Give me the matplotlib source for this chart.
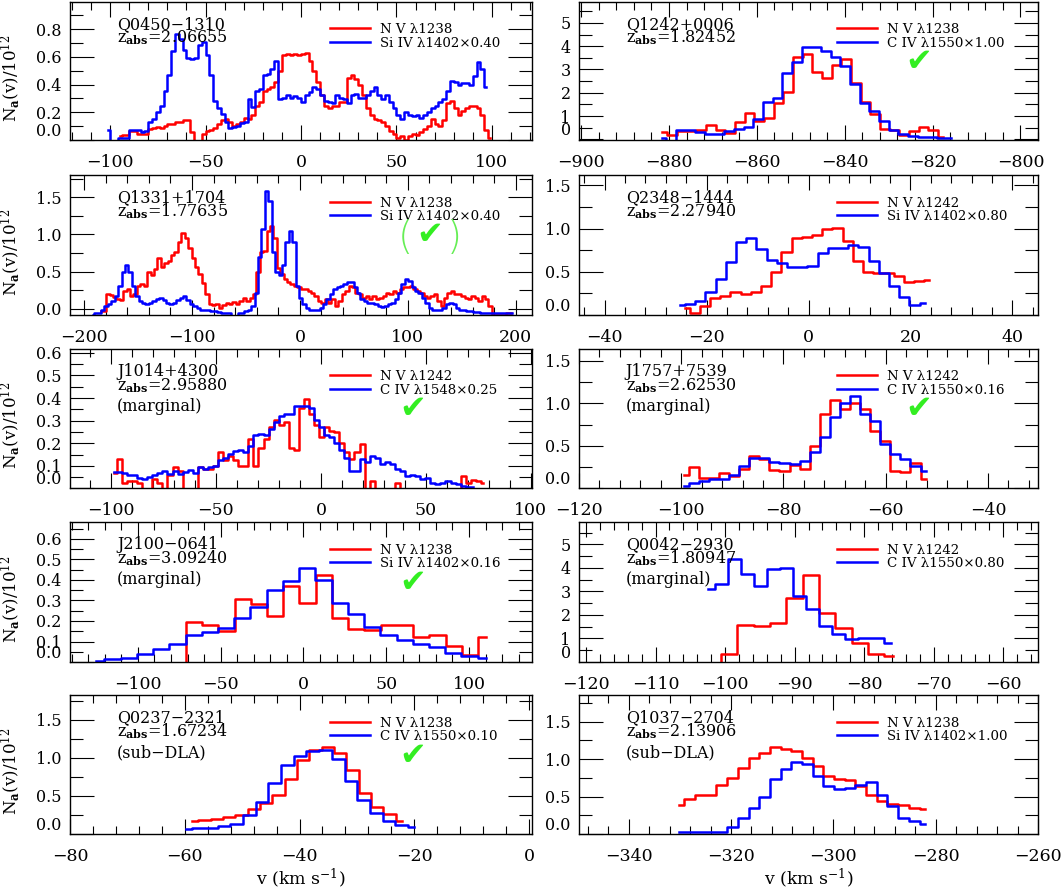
# Apparent column density profiles, N V vs Si IV / C IV, ten absorbers

import numpy as np
import matplotlib.pyplot as plt
from matplotlib.ticker import MultipleLocator, FormatStrFormatter

plt.rcParams['font.family'] = ['DejaVu Serif']
plt.rcParams['mathtext.fontset'] = 'dejavuserif'

RED = '#ff0000'
BLUE = '#0000ff'
GREEN = '#33ee22'

# velocity grids: (first bin centre, bin width) in km/s, values in 1e12 units

# Q0450-1310
q0450_nv_grid = (-95.0, 2.0)
q0450_nv = [0.027, 0.037, 0.037, 0.065, 0.065, 0.042, 0.042, 0.046, 0.08, 0.085,
            0.094, 0.085, 0.104, 0.113, 0.113, 0.128, 0.132, 0.142, 0.147, 0.056,
            -0.05, -0.05, 0.042, 0.065, 0.07, 0.085, 0.113, 0.142, 0.152, 0.132,
            0.104, 0.113, 0.132, 0.161, 0.152, 0.18, 0.247, 0.276, 0.352, 0.371,
            0.381, 0.419, 0.496, 0.61, 0.62, 0.61, 0.62, 0.61, 0.62, 0.63,
            0.572, 0.496, 0.419, 0.324, 0.247, 0.228, 0.247, 0.247, 0.276, 0.276,
            0.448, 0.467, 0.438, 0.4, 0.324, 0.228, 0.18, 0.152, 0.142, 0.132,
            0.104, 0.065, 0.042, 0.018, 0.027, -0.002, 0.03, 0.042, 0.037, 0.056,
            0.08, 0.104, 0.152, 0.113, 0.104, 0.142, 0.266, 0.285, 0.228, 0.18,
            0.209, 0.228, 0.247, 0.247, 0.228, 0.18, 0.075, 0.018]
q0450_si_grid = (-101.0, 2.0)
q0450_si = [0.075, -0.05, -0.05, 0.015, 0.015, 0.015, 0.075, 0.075, 0.075, 0.056,
            0.065, 0.132, 0.152, 0.2, 0.247, 0.352, 0.467, 0.639, 0.763, 0.725,
            0.649, 0.591, 0.582, 0.591, 0.687, 0.706, 0.61, 0.467, 0.285, 0.228,
            0.19, 0.132, 0.085, 0.094, 0.104, 0.123, 0.132, 0.295, 0.238, 0.352,
            0.371, 0.467, 0.477, 0.515, 0.572, 0.295, 0.304, 0.324, 0.304, 0.314,
            0.304, 0.276, 0.324, 0.343, 0.381, 0.371, 0.324, 0.285, 0.276, 0.266,
            0.324, 0.304, 0.295, 0.266, 0.324, 0.333, 0.304, 0.304, 0.324, 0.352,
            0.381, 0.324, 0.295, 0.324, 0.276, 0.228, 0.18, 0.152, 0.2, 0.18,
            0.171, 0.18, 0.161, 0.18, 0.2, 0.228, 0.247, 0.276, 0.295, 0.352,
            0.429, 0.419, 0.4, 0.41, 0.41, 0.4, 0.458, 0.563, 0.515, 0.381]

# Q1242+0006
q1242_nv_grid = (-881.5, 2.2)
q1242_nv = [0.31, 0.17, 0.35, 0.35, 0.42, 0.6, 0.42, 0.25, 0.76, 1.14,
            0.78, 0.93, 1.58, 2.04, 3.55, 3.66, 2.87, 2.65, 3.19, 3.47,
            2.4, 1.62, 1.07, 0.45, 0.38, 0.17, 0.35, 0.54, 0.38, 0.11]
q1242_c4_grid = (-881.7, 2.2)
q1242_c4 = [0.06, -0.2, 0.42, 0.38, 0.3, 0.24, 0.21, 0.35, 0.45, 0.54,
            0.86, 1.62, 1.79, 2.83, 3.33, 3.98, 3.98, 3.81, 3.52, 3.16,
            2.37, 1.58, 1.2, 0.78, 0.38, 0.24, 0.14, 0.09, 0.09, 0.06, 0.06]

# Q1331+1704
q1331_nv_grid = (-184.2, 3.162)
q1331_nv = [-0.03, -0.03, 0.2, 0.19, 0.16, 0.13, 0.12, 0.24, 0.27, 0.17,
            0.2, 0.31, 0.33, 0.31, 0.49, 0.45, 0.54, 0.68, 0.56, 0.61,
            0.65, 0.72, 0.77, 0.9, 1.02, 0.95, 0.82, 0.68, 0.56, 0.47,
            0.35, 0.2, 0.06, 0.05, 0.06, 0.01, 0.05, 0.08, 0.06, 0.09,
            0.07, 0.1, 0.15, 0.1, 0.15, 0.2, 0.49, 0.77, 0.78, 1.04,
            1.11, 0.95, 0.55, 0.47, 0.4, 0.36, 0.33, 0.31, 0.29, 0.27,
            0.27, 0.24, 0.22, 0.17, 0.1, 0.08, 0.13, 0.08, 0.13, 0.04,
            0.1, 0.2, 0.24, 0.31, 0.29, 0.22, 0.2, 0.15, 0.17, 0.13,
            0.17, 0.13, 0.15, 0.17, 0.22, 0.2, 0.24, 0.22, 0.27, 0.29,
            0.29, 0.31, 0.27, 0.24, 0.22, 0.17, 0.15, 0.17, 0.2, 0.1,
            0.04, 0.15, 0.22, 0.24, 0.2, 0.2, 0.17, 0.15, 0.13, 0.17,
            0.15, 0.1, 0.17, 0.13, 0.04, -0.08, -0.08, -0.08, -0.08, -0.05,
            -0.06]
q1331_si_grid = (-192.1, 3.162)
q1331_si = [-0.08, -0.06, -0.05, -0.01, 0.04, 0.06, 0.1, 0.17, 0.31, 0.49,
            0.59, 0.49, 0.31, 0.17, 0.1, 0.08, 0.06, 0.08, 0.1, 0.13,
            0.15, 0.12, 0.08, 0.06, 0.08, 0.12, 0.15, 0.17, 0.12, 0.06,
            0.04, 0.01, -0.01, -0.01, -0.02, -0.03, -0.03, -0.04, -0.05, -0.05,
            -0.06, -0.1, -0.1, -0.06, -0.05, -0.03, -0.01, 0.04, 0.22, 0.7,
            1.07, 1.59, 1.45, 0.77, 0.49, 0.45, 0.59, 0.9, 1.04, 0.9,
            0.31, 0.15, 0.06, 0.01, -0.01, -0.01, -0.01, 0.01, 0.06, 0.13,
            0.2, 0.27, 0.29, 0.31, 0.33, 0.36, 0.36, 0.29, 0.22, 0.13,
            0.1, 0.08, 0.08, 0.06, 0.04, 0.02, 0.04, 0.06, 0.08, 0.13,
            0.22, 0.33, 0.4, 0.38, 0.29, 0.24, 0.22, 0.15, 0.08, 0.01,
            -0.01, -0.01, -0.01, 0.01, 0.06, 0.08, 0.06, 0.01, -0.01, -0.01,
            -0.03, -0.03, -0.04, -0.04, -0.05, -0.05, -0.05, -0.06, -0.06, -0.06,
            -0.05, -0.05, -0.05, -0.06]

# Q2348-1444
q2348_nv_grid = (-24.3, 2.0)
q2348_nv = [0.08, 0.02, 0.1, 0.2, 0.22, 0.27, 0.24, 0.27, 0.34, 0.5,
            0.73, 0.89, 0.9, 0.92, 1.0, 1.01, 0.86, 0.62, 0.5, 0.49,
            0.48, 0.45, 0.38, 0.39, 0.4]
q2348_si_grid = (-25.2, 2.0)
q2348_si = [0.12, 0.13, 0.16, 0.27, 0.42, 0.61, 0.84, 0.89, 0.76, 0.64,
            0.6, 0.55, 0.56, 0.57, 0.72, 0.78, 0.77, 0.81, 0.79, 0.62,
            0.48, 0.34, 0.21, 0.12, 0.14]

# J1014+4300
j1014_nv_grid = (-98.35, 2.407)
j1014_nv = [0.07, 0.13, 0.024, 0.033, 0.033, 0.024, -0.05, -0.05, 0.042, 0.024,
            -0.05, 0.06, 0.093, 0.079, -0.05, -0.05, -0.05, 0.093, 0.086, 0.088,
            0.098, 0.163, 0.126, 0.144, 0.126, 0.098, 0.098, 0.218, 0.098, 0.181,
            0.218, 0.274, 0.301, 0.283, 0.292, 0.181, 0.172, 0.357, 0.394, 0.329,
            0.283, 0.227, 0.274, 0.255, 0.25, 0.2, 0.163, 0.13, 0.163, 0.195,
            -0.05, 0.033, -0.05, -0.05, -0.05, -0.05, 0.024, -0.05, -0.05, -0.05,
            -0.05, -0.05, -0.05, -0.05, -0.05, -0.05, -0.05, -0.05, -0.05, 0.056,
            0.024, 0.038, 0.033, 0.024]
j1014_c4_grid = (-98.35, 2.407)
j1014_c4 = [0.074, 0.074, 0.07, 0.061, 0.059, 0.048, 0.04, 0.052, 0.061, 0.07,
            0.079, 0.066, 0.079, 0.066, 0.075, 0.081, 0.07, 0.093, 0.086, 0.093,
            0.098, 0.126, 0.135, 0.153, 0.167, 0.172, 0.163, 0.19, 0.236, 0.241,
            0.236, 0.264, 0.292, 0.32, 0.329, 0.329, 0.366, 0.366, 0.366, 0.357,
            0.301, 0.274, 0.236, 0.227, 0.2, 0.172, 0.135, 0.079, 0.079, 0.13,
            0.116, 0.144, 0.135, 0.107, 0.116, 0.107, 0.088, 0.079, 0.055, 0.061,
            0.055, 0.04, 0.045, 0.024, 0.018, 0.024, 0.033, 0.024, 0.018, 0.011,
            0.006, 0.006]

# J1757+7539
j1757_nv_grid = (-99.5, 1.971)
j1757_nv = [0.16, 0.25, 0.12, 0.12, 0.18, 0.15, 0.23, 0.38, 0.35, 0.22,
            0.21, 0.28, 0.23, 0.5, 0.87, 1.04, 0.94, 1.0, 0.94, 0.67,
            0.56, 0.2, 0.19, 0.3, 0.11]
j1757_c4_grid = (-99.5, 1.971)
j1757_c4 = [0.03, 0.07, 0.09, 0.11, 0.11, 0.16, 0.27, 0.36, 0.36, 0.31,
            0.3, 0.29, 0.32, 0.43, 0.6, 0.84, 1.0, 1.09, 0.87, 0.79,
            0.52, 0.41, 0.35, 0.26, 0.2]

# J2100-0641
j2100_nv_grid = (-75.9, 9.8)
j2100_nv = [-0.05, 0.195, 0.18, 0.15, 0.306, 0.285, 0.225, 0.373, 0.29, 0.426,
            0.216, 0.16, 0.157, 0.18, 0.18, 0.12, 0.13, 0.08, 0.033, 0.12]
j2100_si_grid = (-125.1, 9.8)
j2100_si = [0.005, 0.013, 0.02, 0.04, 0.063, 0.088, 0.134, 0.145, 0.165, 0.216,
            0.27, 0.349, 0.397, 0.46, 0.402, 0.289, 0.236, 0.17, 0.134, 0.107,
            0.09, 0.071, 0.046, 0.03, 0.02]

# Q0042-2930
q0042_nv_grid = (-101.76, 2.351)
q0042_nv = [-0.3, 0.32, 1.59, 1.53, 1.65, 2.73, 3.71, 2.09, 1.43, 0.82, 0.32, 0.27]
q0042_c4_grid = (-102.44, 1.878)
q0042_c4 = [3.09, 3.3, 4.36, 3.75, 3.25, 3.95, 4.0, 2.81, 2.25, 1.54,
            1.21, 0.97, 1.04, 1.01, 0.79]

# Q0237-2321
q0237_nv_grid = (-58.69, 2.148)
q0237_nv = [0.17, 0.19, 0.2, 0.23, 0.255, 0.335, 0.41, 0.51, 0.72, 0.97,
            1.1, 1.14, 1.07, 0.84, 0.54, 0.35, 0.26, 0.17]
q0237_c4_grid = (-59.82, 2.214)
q0237_c4 = [0.07, 0.08, 0.08, 0.106, 0.137, 0.247, 0.42, 0.67, 0.91, 1.02,
            1.09, 1.105, 0.99, 0.69, 0.445, 0.27, 0.167, 0.115, 0.09]

# Q1037-2704
q1037_nv_grid = (-330.15, 2.089)
q1037_nv = [0.39, 0.47, 0.52, 0.525, 0.65, 0.75, 0.88, 1.01, 1.085, 1.157,
            1.13, 1.11, 1.01, 0.91, 0.78, 0.74, 0.72, 0.64, 0.525, 0.44,
            0.4, 0.39, 0.35, 0.33]
q1037_si_grid = (-330.15, 2.089)
q1037_si = [0.03, 0.03, 0.03, 0.03, 0.03, 0.1, 0.21, 0.35, 0.49, 0.74,
            0.87, 0.96, 0.93, 0.78, 0.64, 0.6, 0.61, 0.65, 0.7, 0.52,
            0.37, 0.22, 0.17, 0.14]

names = ['Q0450\u22121310', 'Q1242+0006', 'Q1331+1704', 'Q2348\u22121444',
         'J1014+4300', 'J1757+7539', 'J2100\u22120641', 'Q0042\u22122930',
         'Q0237\u22122321', 'Q1037\u22122704']
zabs = ['2.06655', '1.82452', '1.77635', '2.27940', '2.95880',
        '2.62530', '3.09240', '1.80947', '1.67234', '2.13906']
notes = ['', '', '', '', '(marginal)', '(marginal)', '(marginal)', '(marginal)',
         '(sub\u2212DLA)', '(sub\u2212DLA)']
red_labels = ['N V \u03bb1238', 'N V \u03bb1238', 'N V \u03bb1238', 'N V \u03bb1242',
              'N V \u03bb1242', 'N V \u03bb1242', 'N V \u03bb1238', 'N V \u03bb1242',
              'N V \u03bb1238', 'N V \u03bb1238']
blue_labels = ['Si IV \u03bb1402\u00d70.40', 'C IV \u03bb1550\u00d71.00',
               'Si IV \u03bb1402\u00d70.40', 'Si IV \u03bb1402\u00d70.80',
               'C IV \u03bb1548\u00d70.25', 'C IV \u03bb1550\u00d70.16',
               'Si IV \u03bb1402\u00d70.16', 'C IV \u03bb1550\u00d70.80',
               'C IV \u03bb1550\u00d70.10', 'Si IV \u03bb1402\u00d71.00']
checks = ['', 'yes', 'paren', '', 'yes', 'yes', 'yes', '', 'yes', '']

red_data = [(q0450_nv_grid, q0450_nv), (q1242_nv_grid, q1242_nv), (q1331_nv_grid, q1331_nv),
            (q2348_nv_grid, q2348_nv), (j1014_nv_grid, j1014_nv), (j1757_nv_grid, j1757_nv),
            (j2100_nv_grid, j2100_nv), (q0042_nv_grid, q0042_nv), (q0237_nv_grid, q0237_nv),
            (q1037_nv_grid, q1037_nv)]
blue_data = [(q0450_si_grid, q0450_si), (q1242_c4_grid, q1242_c4), (q1331_si_grid, q1331_si),
             (q2348_si_grid, q2348_si), (j1014_c4_grid, j1014_c4), (j1757_c4_grid, j1757_c4),
             (j2100_si_grid, j2100_si), (q0042_c4_grid, q0042_c4), (q0237_c4_grid, q0237_c4),
             (q1037_si_grid, q1037_si)]

# axis setup per panel: xlim, ylim, x major/minor, y major/minor, y label format
xlims = [(-121, 121), (-900.5, -796), (-213, 215), (-45, 45), (-119.5, 100.5),
         (-120, -30.2), (-141, 138), (-121, -55), (-80, 0.5), (-349.7, -260)]
ylims = [(-0.003, 0.995), (-0.05, 5.9), (-0.082, 1.80), (0, 1.62), (0, 0.617),
         (0, 1.64), (0, 0.683), (0, 5.95), (0, 1.82), (0, 1.85)]
xsteps = [(50, 10), (20, 4), (100, 20), (20, 4), (50, 10),
          (20, 4), (50, 10), (10, 2), (20, 4), (20, 4)]
ysteps = [(0.2, 0.1), (1, 0.5), (0.5, 0.25), (0.5, 0.25), (0.1, 0.05),
          (0.5, 0.25), (0.1, 0.05), (1, 0.5), (0.5, 0.25), (0.5, 0.25)]
yfmts = ['%.1f', '%d', '%.1f', '%.1f', '%.1f', '%.1f', '%.1f', '%d', '%.1f', '%.1f']

fig = plt.figure(figsize=(10.62, 8.88), dpi=100)

col_x = [(0.0659, 0.435), (0.5452, 0.4322)]
row_y = [(0.8418, 0.156), (0.6453, 0.1577), (0.4499, 0.1571), (0.2545, 0.1577), (0.0608, 0.156)]

for i in range(10):
    row, col = i // 2, i % 2
    ax = fig.add_axes([col_x[col][0], row_y[row][0], col_x[col][1], row_y[row][1]])

    for (grid, vals), c in [(red_data[i], RED), (blue_data[i], BLUE)]:
        v = grid[0] + grid[1] * np.arange(len(vals))
        ax.step(v, vals, where='mid', color=c, lw=1.8)

    ax.set_xlim(*xlims[i])
    ax.set_ylim(*ylims[i])
    ax.xaxis.set_major_locator(MultipleLocator(xsteps[i][0]))
    ax.xaxis.set_minor_locator(MultipleLocator(xsteps[i][1]))
    ax.yaxis.set_major_locator(MultipleLocator(ysteps[i][0]))
    ax.yaxis.set_minor_locator(MultipleLocator(ysteps[i][1]))
    ax.yaxis.set_major_formatter(FormatStrFormatter(yfmts[i]))

    ax.tick_params(which='both', direction='in', top=True, right=True, width=0.8)
    ax.tick_params(axis='x', which='major', length=11, pad=10, labelsize=12.5)
    ax.tick_params(axis='x', which='minor', length=6)
    ax.tick_params(axis='y', which='major', length=17, pad=6, labelsize=11.5)
    ax.tick_params(axis='y', which='minor', length=9.5)
    for s in ax.spines.values():
        s.set_linewidth(1.0)

    # lowest y label sits inside the frame when zero is on the bottom edge
    y0, y1 = ylims[i]
    h_px = row_y[row][1] * 888
    if (0 - y0) / (y1 - y0) * h_px < 4.5:
        locs = ax.yaxis.get_majorticklocs()
        ticks = ax.yaxis.get_major_ticks(len(locs))
        for loc, t in zip(locs, ticks):
            if abs(loc) < 1e-9:
                t.label1.set_verticalalignment('bottom')

    # object name, redshift, note
    ax.text(0.102, 0.806, names[i], transform=ax.transAxes, fontsize=11.5, va='baseline')
    ax.text(0.102, 0.706, r'z$_{\mathbf{abs}}$=' + zabs[i], transform=ax.transAxes,
            fontsize=11.5, va='baseline')
    if notes[i]:
        ax.text(0.102, 0.556, notes[i], transform=ax.transAxes, fontsize=11.5, va='baseline')

    # legend
    for c, lab, yy in [(RED, red_labels[i], 0.81), (BLUE, blue_labels[i], 0.714)]:
        ax.plot([0.562, 0.65], [yy, yy], transform=ax.transAxes, color=c, lw=1.8)
        ax.text(0.671, yy, lab, transform=ax.transAxes, fontsize=9.6, va='center_baseline')

    if checks[i] == 'yes':
        ax.text(0.741, 0.563, '\u2714', transform=ax.transAxes, ha='center', va='center',
                color=GREEN, fontsize=23, family=['DejaVu Sans'])
    elif checks[i] == 'paren':
        ax.text(0.779, 0.564, '\u2714', transform=ax.transAxes, ha='center', va='center',
                color=GREEN, fontsize=23, family=['DejaVu Sans'])
        ax.text(0.725, 0.55, '(', transform=ax.transAxes, ha='center', va='center',
                color='#66ee55', fontsize=28, family=['DejaVu Sans'], fontweight='light')
        ax.text(0.832, 0.55, ')', transform=ax.transAxes, ha='center', va='center',
                color='#66ee55', fontsize=28, family=['DejaVu Sans'], fontweight='light')

    if col == 0:
        ax.set_ylabel(r'N$_{\mathbf{a}}$(v)/10$^{12}$', fontsize=12)
        ax.yaxis.set_label_coords(-0.104, 0.45)
    if row == 4:
        ax.set_xlabel(r'v (km s$^{-1}$)', fontsize=12.5)
        ax.xaxis.set_label_coords(0.5, -0.235)

fig.savefig('out.png', dpi=100)
